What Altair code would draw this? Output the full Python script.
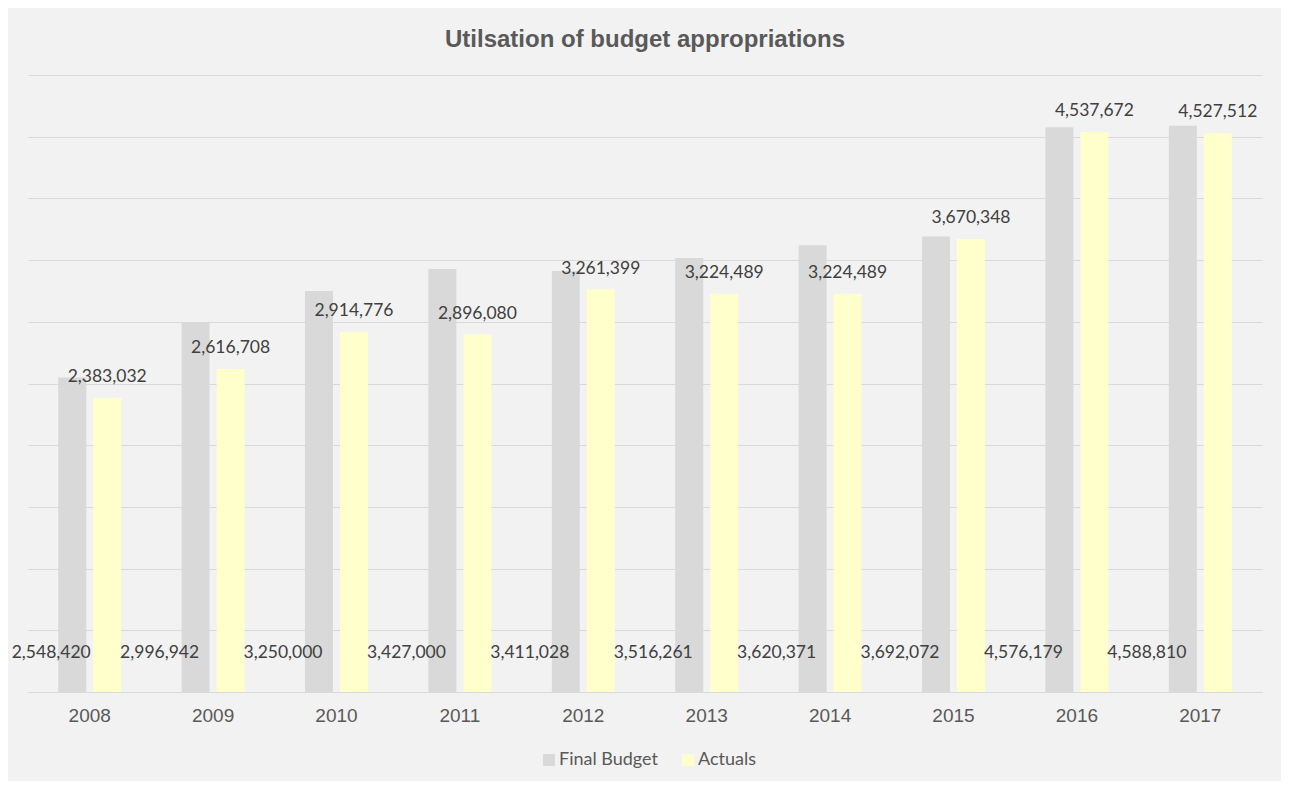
import altair as alt
import pandas as pd

years = ["2008", "2009", "2010", "2011", "2012", "2013", "2014", "2015", "2016", "2017"]
final_budget = [2548420, 2996942, 3250000, 3427000, 3411028, 3516261, 3620371, 3692072, 4576179, 4588810]
actuals = [2383032, 2616708, 2914776, 2896080, 3261399, 3224489, 3224489, 3670348, 4537672, 4527512]
series_names = ["Final Budget", "Actuals"]
series_colors = ["#d9d9d9", "#ffffcc"]
grid_values = [0, 500000, 1000000, 1500000, 2000000, 2500000, 3000000, 3500000, 4000000, 4500000, 5000000]

rows = []
for yr, fb, ac in zip(years, final_budget, actuals):
    rows.append({"year": yr, "series": "Final Budget", "value": fb})
    rows.append({"year": yr, "series": "Actuals", "value": ac})
df = pd.DataFrame(rows)
df_fb = df[df["series"] == "Final Budget"]
df_fb_first = df_fb[df_fb["year"] == years[0]]
df_fb_rest = df_fb[df_fb["year"] != years[0]]
df_ac = df[df["series"] == "Actuals"]

x_enc = alt.X(
    "year:N",
    sort=years,
    scale=alt.Scale(paddingInner=0.49, paddingOuter=0.245),
    axis=alt.Axis(
        title=None,
        labelFont="Liberation Sans",
        labelFontSize=19,
        labelColor="#595959",
        labelAngle=0,
        ticks=False,
        domainColor="#d9d9d9",
        domainWidth=1,
        labelPadding=14,
        grid=False,
    ),
)
xoff_enc = alt.XOffset(
    "series:N",
    sort=series_names,
    scale=alt.Scale(domain=series_names, paddingInner=0.2, paddingOuter=0),
)
y_enc = alt.Y(
    "value:Q",
    scale=alt.Scale(domain=[0, 5000000], nice=False),
    axis=alt.Axis(
        title=None,
        labels=False,
        ticks=False,
        domain=False,
        values=grid_values,
        gridColor="#d9d9d9",
        gridWidth=1,
    ),
)

bars = alt.Chart(df).mark_bar().encode(
    x=x_enc,
    xOffset=xoff_enc,
    y=y_enc,
    color=alt.Color(
        "series:N",
        sort=series_names,
        scale=alt.Scale(domain=series_names, range=series_colors),
        legend=alt.Legend(
            title=None,
            orient="none",
            legendX=512,
            legendY=676,
            direction="horizontal",
            symbolType="square",
            symbolSize=144,
            symbolStrokeWidth=0,
            labelFont="Lato",
            labelFontSize=18,
            labelColor="#595959",
            columnPadding=21,
            labelOffset=1,
        ),
    ),
)

top_labels = alt.Chart(df_ac).mark_text(
    font="Lato", fontSize=17.5, color="#404040", dy=-21, baseline="middle"
).encode(
    x=x_enc,
    xOffset=xoff_enc,
    y=y_enc,
    text=alt.Text("value:Q", format=","),
)

label_y = alt.Y(datum=320000, type="quantitative")

bottom_labels_first = alt.Chart(df_fb_first).mark_text(
    font="Lato", fontSize=17.5, color="#404040", dx=-21, baseline="middle"
).encode(
    x=x_enc,
    xOffset=xoff_enc,
    y=label_y,
    text=alt.Text("value:Q", format=","),
)

bottom_labels_rest = alt.Chart(df_fb_rest).mark_text(
    font="Lato", fontSize=17.5, color="#404040", dx=-36, baseline="middle"
).encode(
    x=x_enc,
    xOffset=xoff_enc,
    y=label_y,
    text=alt.Text("value:Q", format=","),
)

chart = (
    alt.layer(bars, top_labels, bottom_labels_first, bottom_labels_rest)
    .properties(
        width=1234,
        height=617,
        autosize=alt.AutoSizeParams(type="none"),
        padding={"left": 20, "top": 67, "right": 19, "bottom": 89},
        background="#f2f2f2",
        title=alt.TitleParams(
            text="Utilsation of budget appropriations",
            font="Liberation Sans",
            fontSize=24,
            fontWeight="bold",
            color="#595959",
            anchor="middle",
            offset=4,
            baseline="alphabetic",
        ),
    )
    .configure_view(strokeWidth=0)
)

chart.save("out.html", embed_options={"renderer": "svg", "actions": False})
